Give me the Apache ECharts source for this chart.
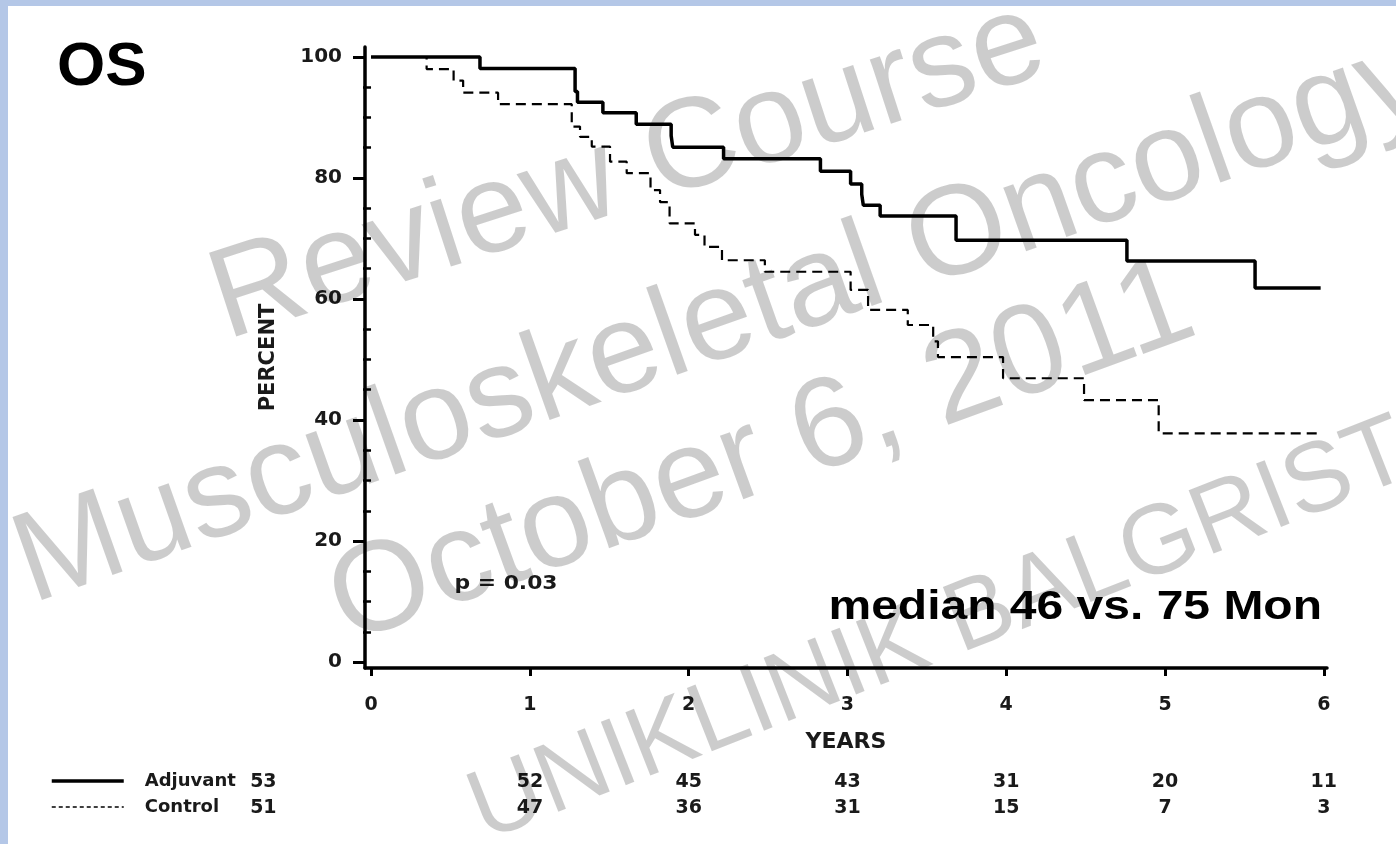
<!DOCTYPE html>
<html>
<head>
<meta charset="utf-8">
<title>OS</title>
<script src="https://cdn.jsdelivr.net/npm/echarts@6/dist/echarts.min.js"></script>
<style>
  html, body { margin: 0; padding: 0; background: #fff; }
  #chart { width: 1396px; height: 844px; }
</style>
</head>
<body>
<div id="chart"></div>
<script>
// survival steps (years, percent)
const adjTimes = [0, 0.686, 1.285, 1.30, 1.46, 1.67, 1.89, 1.90, 2.22, 2.83, 3.02, 3.09, 3.10, 3.206, 3.684, 4.76, 5.567, 5.98]
const adjSurv  = [100, 98.1, 94.3, 92.5, 90.8, 88.9, 87.0, 85.1, 83.2, 81.1, 79.0, 77.3, 75.5, 73.7, 69.7, 66.3, 61.8, 61.8]

const ctrlTimes = [0, 0.35, 0.52, 0.58, 0.80, 1.264, 1.316, 1.39, 1.505, 1.61, 1.76, 1.82, 1.88, 2.04, 2.10, 2.21, 2.48, 3.02, 3.13, 3.38, 3.54, 3.57, 3.98, 4.49, 4.96, 5.97]
const ctrlSurv  = [100, 98.0, 96.1, 94.1, 92.2, 88.5, 86.8, 85.2, 82.7, 80.8, 78.0, 76.0, 72.5, 70.6, 68.6, 66.4, 64.5, 61.5, 58.2, 55.7, 53.0, 50.4, 46.9, 43.3, 37.8, 37.8]

// number at risk
const riskCols = [-0.68, 1, 2, 3, 4, 5, 6]
const riskAdj  = [53, 52, 45, 43, 31, 20, 11]
const riskCtrl = [51, 47, 36, 31, 15, 7, 3]

const xTicks = [0, 1, 2, 3, 4, 5, 6]
const yTicks = [0, 20, 40, 60, 80, 100]
const yMinorTicks = [5, 10, 15, 25, 30, 35, 45, 50, 55, 65, 70, 75, 85, 90, 95]

const watermarkLines = ['Review Course', 'Musculoskeletal Oncology', 'October 6, 2011', 'UNIKLINIK BALGRIST']

const FIG_FONT = '"DejaVu Sans", sans-serif'
const SLIDE_FONT = '"Liberation Sans", Arial, sans-serif'
const INK = '#1a1a1a'

function pairs(xs, ys) {
  return xs.map((x, i) => [x, ys[i]])
}

const chart = echarts.init(document.getElementById('chart'))

// watermark: center, angle (deg), size
const wmLayout = [
  { x: 628, y: 172, rot: 18, size: 128 },
  { x: 721, y: 322, rot: 19.5, size: 128 },
  { x: 762, y: 455, rot: 20, size: 128 },
  { x: 940, y: 632, rot: 21.5, size: 99 }
]

const riskLabel = { show: true, position: 'inside', formatter: p => p.data[2], fontSize: 19, fontWeight: 'bold', color: INK, fontFamily: FIG_FONT, textBorderWidth: 0 }

const option = {
  animation: false,
  backgroundColor: '#fff',
  textStyle: { fontFamily: FIG_FONT },
  grid: [
    { left: 365, top: 47, right: 69, bottom: 176 },
    { left: 257, top: 769, right: 69, height: 52 }
  ],
  xAxis: [
    {
      type: 'value', gridIndex: 0, min: -0.038, max: 6.02,
      name: 'YEARS', nameLocation: 'middle', nameGap: 63,
      nameTextStyle: { fontSize: 22, fontWeight: 'bold', color: INK, fontFamily: FIG_FONT },
      axisLine: { show: true, onZero: false, lineStyle: { color: '#000', width: 3.5 } },
      axisTick: { show: true, length: 8, customValues: xTicks, lineStyle: { color: '#000', width: 3 } },
      axisLabel: { margin: 28, customValues: xTicks, fontSize: 19, fontWeight: 'bold', color: INK, fontFamily: FIG_FONT },
      splitLine: { show: false }
    },
    {
      type: 'value', gridIndex: 1, min: -0.72, max: 6.02, show: false
    }
  ],
  yAxis: [
    {
      type: 'value', gridIndex: 0, position: 'left', min: -0.99, max: 101.65,
      name: 'PERCENT', nameLocation: 'middle', nameGap: 86,
      nameTextStyle: { fontSize: 21, fontWeight: 'bold', color: INK, fontFamily: FIG_FONT },
      axisLine: { show: true, onZero: false, lineStyle: { color: '#000', width: 3.5 } },
      axisTick: { show: true, length: 12, customValues: yTicks, lineStyle: { color: '#000', width: 3 } },
      axisLabel: { margin: 23, customValues: yTicks, fontSize: 20, fontWeight: 'bold', color: INK, fontFamily: FIG_FONT },
      splitLine: { show: false }
    },
    {
      // minor ticks only
      type: 'value', gridIndex: 0, position: 'left', min: -0.99, max: 101.65,
      axisLine: { show: false },
      axisTick: { show: true, length: 8, customValues: yMinorTicks, lineStyle: { color: '#000', width: 2.5 } },
      axisLabel: { show: false },
      splitLine: { show: false }
    },
    {
      type: 'category', gridIndex: 1, data: ['Control', 'Adjuvant'], show: false
    }
  ],
  legend: {
    orient: 'vertical', left: 50, top: 772, padding: 0,
    itemWidth: 72, itemHeight: 20, itemGap: 8,
    itemStyle: { opacity: 0 },
    textStyle: { fontSize: 18, fontWeight: 'bold', color: INK, fontFamily: FIG_FONT, padding: [0, 0, 0, 16] },
    data: [
      { name: 'Adjuvant', lineStyle: { width: 3.5 } },
      { name: 'Control', lineStyle: { width: 1.5, type: [4, 3] } }
    ]
  },
  series: [
    {
      name: 'Adjuvant', type: 'line', step: 'end', xAxisIndex: 0, yAxisIndex: 0,
      symbol: 'none', data: pairs(adjTimes, adjSurv),
      lineStyle: { color: '#000', width: 3.5 }, itemStyle: { color: '#000' }, z: 3
    },
    {
      name: 'Control', type: 'line', step: 'end', xAxisIndex: 0, yAxisIndex: 0,
      symbol: 'none', data: pairs(ctrlTimes, ctrlSurv),
      lineStyle: { color: '#000', width: 2.2, type: [10, 6] }, itemStyle: { color: '#000' }, z: 3
    },
    {
      name: 'risk-adj', type: 'scatter', xAxisIndex: 1, yAxisIndex: 2,
      symbolSize: 0, itemStyle: { color: '#000', opacity: 1 },
      data: riskCols.map((x, i) => [x, 'Adjuvant', riskAdj[i]]),
      label: riskLabel
    },
    {
      name: 'risk-ctrl', type: 'scatter', xAxisIndex: 1, yAxisIndex: 2,
      symbolSize: 0, itemStyle: { color: '#000', opacity: 1 },
      data: riskCols.map((x, i) => [x, 'Control', riskCtrl[i]]),
      label: riskLabel
    }
  ],
  graphic: [
    // slide border
    { type: 'rect', shape: { x: 0, y: 0, width: 8, height: 844 }, style: { fill: '#b4c7e7' }, z: 0 },
    { type: 'rect', shape: { x: 0, y: 0, width: 1396, height: 6 }, style: { fill: '#b4c7e7' }, z: 0 },
    {
      type: 'text', x: 57, y: 68, z: 50,
      style: { text: 'OS', font: 'bold 62px ' + SLIDE_FONT, fill: '#000', textAlign: 'left', textVerticalAlign: 'middle' }
    },
    {
      type: 'text', x: 506, y: 584, scaleX: 1.15, z: 50,
      style: { text: 'p = 0.03', font: 'bold 19px ' + FIG_FONT, fill: INK, textAlign: 'center', textVerticalAlign: 'middle' }
    },
    {
      type: 'text', x: 1322, y: 608, scaleX: 1.2, z: 50,
      style: { text: 'median 46 vs. 75 Mon', font: 'bold 40px ' + SLIDE_FONT, fill: '#000', textAlign: 'right', textVerticalAlign: 'middle' }
    },
    ...watermarkLines.map((t, i) => ({
      type: 'text', x: wmLayout[i].x, y: wmLayout[i].y, rotation: wmLayout[i].rot * Math.PI / 180, z: 100,
      silent: true,
      style: { text: t, font: wmLayout[i].size + 'px ' + SLIDE_FONT, fill: 'rgba(0,0,0,0.2)', textAlign: 'center', textVerticalAlign: 'middle' }
    }))
  ]
}

chart.setOption(option)
</script>
</body>
</html>
